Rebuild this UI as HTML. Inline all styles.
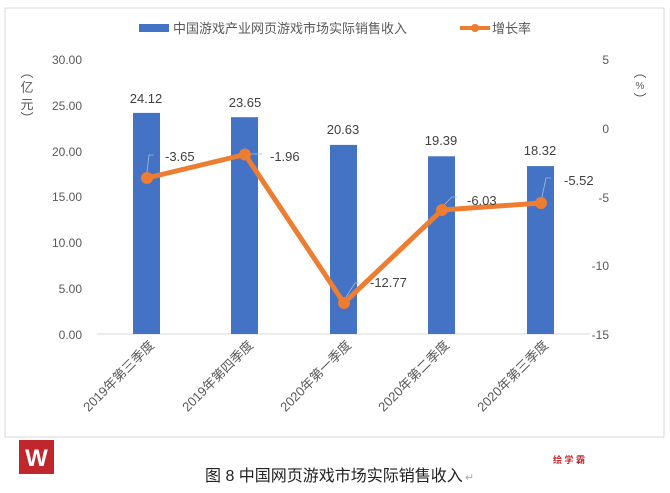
<!DOCTYPE html>
<html><head><meta charset="utf-8"><style>
body{margin:0;background:#fff;width:670px;height:488px;overflow:hidden}
text{font-family:"Liberation Sans","Noto Sans CJK SC",sans-serif}
</style></head><body>
<svg width="670" height="488" viewBox="0 0 670 488" xmlns="http://www.w3.org/2000/svg">
<rect x="5" y="8" width="659" height="429" fill="#fff" stroke="#d9d9d9" stroke-width="1"/>
<rect x="139" y="24" width="30" height="8" fill="#4472c4"/>
<text x="173" y="33" font-size="13" fill="#595959">中国游戏产业网页游戏市场实际销售收入</text>
<line x1="460" y1="28" x2="490" y2="28" stroke="#ed7d31" stroke-width="4"/>
<circle cx="475" cy="28" r="4" fill="#ed7d31"/>
<text x="492" y="33" font-size="13" fill="#595959">增长率</text>
<g font-size="13" fill="#595959" text-anchor="middle">
<text x="27" y="77">︵</text><text x="27" y="92">亿</text><text x="27" y="109">元</text><text x="27" y="123">︶</text>
<text x="640" y="77">︵</text><text x="640" y="89" font-size="10">%</text><text x="640" y="104">︶</text>
</g>
<g font-size="12" fill="#595959" text-anchor="end">
<text x="82" y="64">30.00</text><text x="82" y="110">25.00</text><text x="82" y="156">20.00</text>
<text x="82" y="201">15.00</text><text x="82" y="247">10.00</text><text x="82" y="293">5.00</text><text x="82" y="339">0.00</text>
</g>
<g font-size="12" fill="#595959" text-anchor="end">
<text x="609" y="64">5</text><text x="609" y="133">0</text><text x="609" y="202">-5</text>
<text x="609" y="270">-10</text><text x="609" y="339">-15</text>
</g>
<line x1="97" y1="334" x2="590" y2="334" stroke="#d9d9d9"/>
<g fill="#4472c4">
<rect x="133" y="112.9" width="27" height="221.1"/>
<rect x="231" y="117.2" width="27" height="216.8"/>
<rect x="330" y="144.9" width="27" height="189.1"/>
<rect x="428" y="156.3" width="27" height="177.7"/>
<rect x="527" y="166.1" width="27" height="167.9"/>
</g>
<g font-size="13" fill="#404040" text-anchor="middle">
<text x="146" y="103">24.12</text><text x="245" y="107">23.65</text><text x="343" y="134">20.63</text>
<text x="441" y="145">19.39</text><text x="540" y="155">18.32</text>
</g>
<g stroke="#a6b8d8" stroke-width="0.8" fill="none">
<path d="M147 172 L149 155 L154 155"/>
<path d="M249 154 L262 154"/>
<path d="M346 297 L355 283 L360 283"/>
<path d="M444 205 L452 197 L457 197"/>
<path d="M542 197 L546 178 L551 178"/>
</g>
<polyline points="147,178 245,154.5 344,303 442,210 541,203" fill="none" stroke="#ed7d31" stroke-width="5" stroke-linejoin="round"/>
<g fill="#ed7d31">
<circle cx="147" cy="178" r="6"/><circle cx="245" cy="154.5" r="6"/><circle cx="344" cy="303" r="6"/>
<circle cx="442" cy="210" r="6"/><circle cx="541" cy="203" r="6"/>
</g>
<g font-size="13" fill="#404040">
<text x="165" y="161">-3.65</text><text x="270" y="161">-1.96</text><text x="370" y="287">-12.77</text>
<text x="467" y="205">-6.03</text><text x="564" y="185">-5.52</text>
</g>
<g font-size="13" fill="#595959" text-anchor="end">
<text transform="translate(155,346) rotate(-45)">2019年第三季度</text>
<text transform="translate(254,346) rotate(-45)">2019年第四季度</text>
<text transform="translate(352,346) rotate(-45)">2020年第一季度</text>
<text transform="translate(450,346) rotate(-45)">2020年第二季度</text>
<text transform="translate(549,346) rotate(-45)">2020年第三季度</text>
</g>
<rect x="19" y="440" width="35" height="34" fill="#c0272d"/>
<text x="36.5" y="466" font-size="24" font-weight="bold" fill="#fff" text-anchor="middle">W</text>
<text x="553" y="463" font-size="9" font-weight="bold" fill="#c0272d">绘 学 霸</text>
<text x="205" y="481" font-size="16" fill="#222">图 8  中国网页游戏市场实际销售收入</text>
<text x="465" y="481" font-size="11" fill="#aaa">↵</text>
</svg>
</body></html>
